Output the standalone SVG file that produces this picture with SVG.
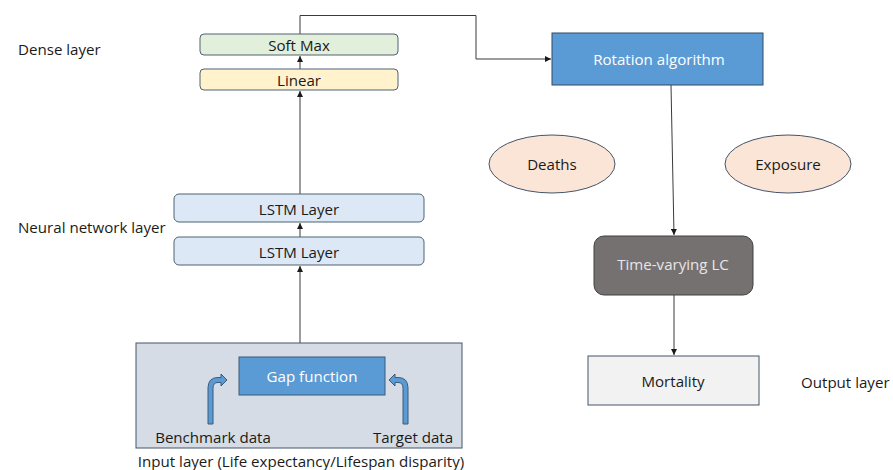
<svg xmlns="http://www.w3.org/2000/svg" width="893" height="470" viewBox="0 0 893 470">
  <style>
    text { font-family: "Open Sans", "Liberation Sans", sans-serif; font-size: 15.1px; fill: #1a1a1a; }
    .mid { text-anchor: middle; dominant-baseline: central; }
    .light { fill: #ffffff; }
    .greytxt { fill: #e6e6e6; }
    .edge { fill: none; stroke: #3a3a3a; stroke-width: 1; }
    .bent { fill: #5b9bd5; stroke: #3b5a78; stroke-width: 1; }
  </style>
  <defs>
    <marker id="arr" viewBox="0 0 8 8" refX="8" refY="4" markerWidth="6" markerHeight="6" orient="auto" markerUnits="userSpaceOnUse">
      <path d="M0,0 L8,4 L0,8 z" fill="#1a1a1a"/>
    </marker>
  </defs>
  <rect width="893" height="470" fill="#ffffff"/>

  <!-- layer captions -->
  <text x="18" y="49" dominant-baseline="central">Dense layer</text>
  <text x="18" y="227" dominant-baseline="central">Neural network layer</text>
  <text x="801" y="382" dominant-baseline="central">Output layer</text>

  <!-- connectors -->
  <g id="connectors">
    <path class="edge" d="M300,34 V15.5 H476 V59 H551" marker-end="url(#arr)"/>
    <path class="edge" d="M300,69 V56" marker-end="url(#arr)"/>
    <path class="edge" d="M300,194 V91" marker-end="url(#arr)"/>
    <path class="edge" d="M300,237 V223" marker-end="url(#arr)"/>
    <path class="edge" d="M300,343 V266" marker-end="url(#arr)"/>
    <path class="edge" d="M671,85 L674,235" marker-end="url(#arr)"/>
    <path class="edge" d="M674,295 V355" marker-end="url(#arr)"/>
  </g>

  <!-- dense layer -->
  <g id="softmax">
    <rect x="200" y="34" width="198" height="21" rx="4" fill="#e2efda" stroke="#4f6272"/>
    <text class="mid" x="299" y="45">Soft Max</text>
  </g>
  <g id="linear">
    <rect x="200" y="69" width="198" height="21" rx="4" fill="#fff2cc" stroke="#4f6272"/>
    <text class="mid" x="299" y="80">Linear</text>
  </g>

  <!-- neural network layer -->
  <g id="lstm2">
    <rect x="174" y="194" width="250" height="28" rx="5" fill="#dce8f5" stroke="#4f6272"/>
    <text class="mid" x="299" y="208.5">LSTM Layer</text>
  </g>
  <g id="lstm1">
    <rect x="174" y="237" width="250" height="28" rx="5" fill="#dce8f5" stroke="#4f6272"/>
    <text class="mid" x="299" y="251.5">LSTM Layer</text>
  </g>

  <!-- input layer -->
  <g id="input">
    <rect x="136" y="343" width="326" height="105" fill="#d6dce5" stroke="#44546a"/>
    <text class="mid" x="301" y="461">Input layer (Life expectancy/Lifespan disparity)</text>
    <text class="mid" x="213" y="437">Benchmark data</text>
    <text class="mid" x="413" y="437">Target data</text>
    <path class="bent" d="M208,424 V388 Q208,377.5 218,377.5 H221 V374 L227,380 L221,386 V382.5 H218 Q213,382.5 213,388 V424 Z"/>
    <path class="bent" d="M408,424 V388 Q408,377.5 398,377.5 H395 V374 L389,380 L395,386 V382.5 H398 Q403,382.5 403,388 V424 Z"/>
  </g>
  <g id="gap">
    <rect x="239" y="357" width="146" height="38" fill="#5b9bd5" stroke="#3b5a78"/>
    <text class="mid light" x="312" y="376">Gap function</text>
  </g>

  <!-- right-hand branch -->
  <g id="rotation">
    <rect x="552" y="33" width="211" height="52" fill="#5b9bd5" stroke="#2e4a66"/>
    <text class="mid light" x="659" y="59">Rotation algorithm</text>
  </g>
  <g id="deaths">
    <ellipse cx="552" cy="164" rx="63" ry="29" fill="#fbe5d6" stroke="#44546a"/>
    <text class="mid" x="552" y="164">Deaths</text>
  </g>
  <g id="exposure">
    <ellipse cx="788" cy="164" rx="63" ry="29" fill="#fbe5d6" stroke="#44546a"/>
    <text class="mid" x="788" y="164">Exposure</text>
  </g>
  <g id="lc">
    <rect x="594" y="236" width="159" height="59" rx="10" fill="#767171" stroke="#404040"/>
    <text class="mid greytxt" x="673" y="264">Time-varying LC</text>
  </g>
  <g id="mortality">
    <rect x="588" y="356" width="171" height="49" fill="#f2f2f2" stroke="#44546a"/>
    <text class="mid" x="673" y="381">Mortality</text>
  </g>
</svg>
